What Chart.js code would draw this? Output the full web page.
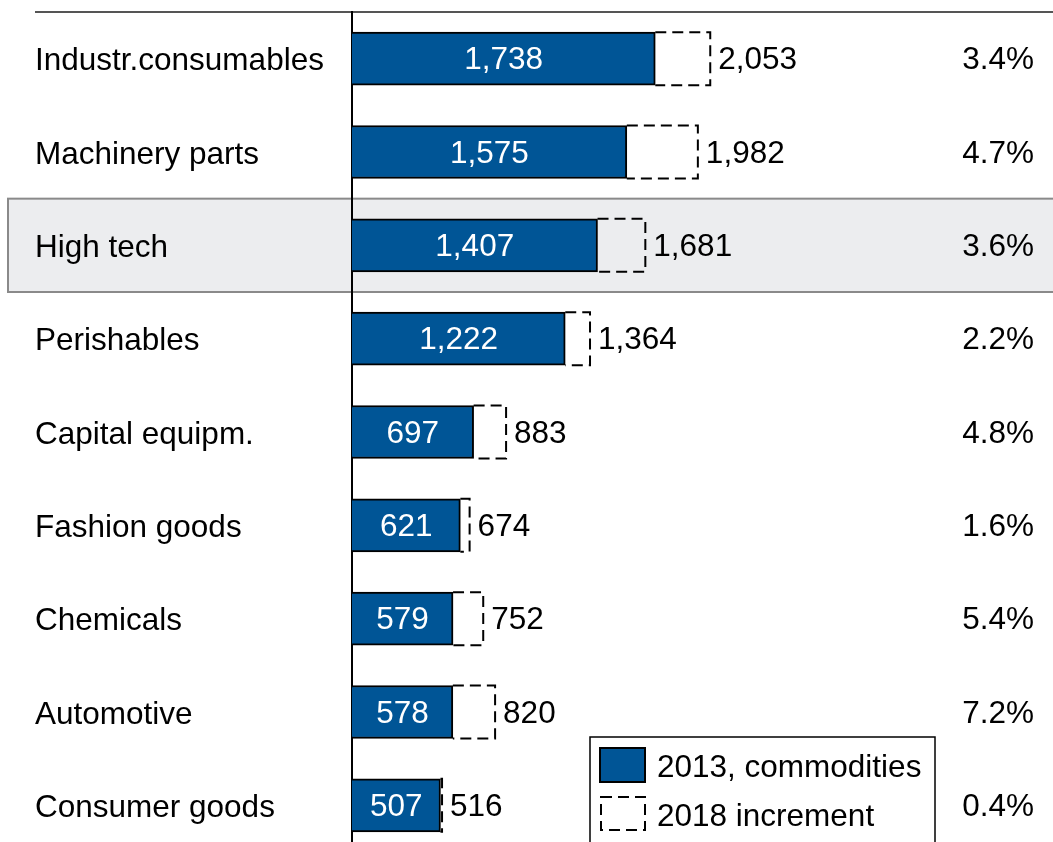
<!DOCTYPE html>
<html lang="en">
<head>
    <meta charset="UTF-8">
    <title>Commodities 2013 vs 2018</title>
    <script src="https://cdn.jsdelivr.net/npm/chart.js"></script>
    <style>
        body {
            margin: 0;
            overflow: hidden;
            background: #fff;
        }
        .chart-box {
            position: relative;
            width: 1053px;
            height: 864px;
        }
    </style>
</head>
<body>
    <div class="chart-box">
        <canvas id="commodityChart"></canvas>
    </div>

    <script>
        const categories = ['Industr.consumables', 'Machinery parts', 'High tech', 'Perishables',
            'Capital equipm.', 'Fashion goods', 'Chemicals', 'Automotive', 'Consumer goods'];
        const values2013 = [1738, 1575, 1407, 1222, 697, 621, 579, 578, 507];
        const values2018 = [2053, 1982, 1681, 1364, 883, 674, 752, 820, 516];
        const growthLabels = ['3.4%', '4.7%', '3.6%', '2.2%', '4.8%', '1.6%', '5.4%', '7.2%', '0.4%'];
        const legendLabels = ['2013, commodities', '2018 increment'];
        const highlightIndex = 2;

        const BLUE = '#005596';
        const FONT = '"Liberation Sans", Arial, sans-serif';
        const FONT_SIZE = 31.5;
        const fmt = v => v.toLocaleString('en-US');

        // 行のハイライトと上の罫線
        const backgroundPlugin = {
            id: 'background',
            beforeDraw(chart) {
                const { ctx, chartArea, scales } = chart;
                const y = scales.y;
                const step = y.getPixelForValue(1) - y.getPixelForValue(0);
                const yc = y.getPixelForValue(highlightIndex);
                ctx.save();
                ctx.fillStyle = '#ecedef';
                ctx.fillRect(8, yc - step / 2, chart.width, step);
                ctx.strokeStyle = '#8a8a8a';
                ctx.lineWidth = 2;
                ctx.strokeRect(8, yc - step / 2, chart.width + 10, step);
                ctx.strokeStyle = '#555';
                ctx.beginPath();
                ctx.moveTo(35, chartArea.top);
                ctx.lineTo(chart.width, chartArea.top);
                ctx.stroke();
                ctx.restore();
            }
        };

        // 破線ボックス、数値ラベル、凡例
        const labelPlugin = {
            id: 'labels',
            afterDatasetsDraw(chart) {
                const { ctx } = chart;
                const blueBars = chart.getDatasetMeta(0).data;
                const dashBars = chart.getDatasetMeta(1).data;
                ctx.save();

                dashBars.forEach(bar => {
                    const left = Math.min(bar.x, bar.base);
                    const right = Math.max(bar.x, bar.base);
                    const top = bar.y - bar.height / 2;
                    const bottom = bar.y + bar.height / 2;
                    ctx.strokeStyle = '#000';
                    ctx.lineWidth = 2;
                    ctx.setLineDash([11, 6]);
                    ctx.beginPath();
                    ctx.moveTo(left, top);
                    ctx.lineTo(right, top);
                    ctx.lineTo(right, bottom);
                    ctx.lineTo(left, bottom);
                    ctx.stroke();
                });
                ctx.setLineDash([]);

                ctx.font = FONT_SIZE + 'px ' + FONT;
                ctx.textBaseline = 'middle';
                blueBars.forEach((bar, i) => {
                    ctx.fillStyle = '#fff';
                    ctx.textAlign = 'center';
                    ctx.fillText(fmt(values2013[i]), (bar.x + bar.base) / 2, bar.y + 2);
                    ctx.fillStyle = '#000';
                    ctx.textAlign = 'left';
                    ctx.fillText(fmt(values2018[i]), dashBars[i].x + 8, bar.y + 2);
                    ctx.textAlign = 'right';
                    ctx.fillText(growthLabels[i], 1034, bar.y + 2);
                });

                // 凡例
                ctx.fillStyle = '#fff';
                ctx.fillRect(590, 737, 345, 120);
                ctx.strokeStyle = '#000';
                ctx.lineWidth = 1.5;
                ctx.strokeRect(590, 737, 345, 120);
                ctx.fillStyle = BLUE;
                ctx.fillRect(600, 748, 45, 34);
                ctx.lineWidth = 2;
                ctx.strokeRect(600, 748, 45, 34);
                ctx.setLineDash([11, 6]);
                ctx.beginPath();
                ctx.rect(601, 797, 44, 33);
                ctx.stroke();
                ctx.setLineDash([]);
                ctx.fillStyle = '#000';
                ctx.textAlign = 'left';
                ctx.fillText(legendLabels[0], 657, 768);
                ctx.fillText(legendLabels[1], 657, 817);
                ctx.restore();
            }
        };

        new Chart(document.getElementById('commodityChart'), {
            type: 'bar',
            data: {
                labels: categories,
                datasets: [
                    {
                        label: legendLabels[0],
                        data: values2013,
                        backgroundColor: BLUE,
                        borderColor: '#000',
                        borderWidth: 2,
                        borderSkipped: 'start',
                        barThickness: 53,
                        grouped: false,
                        order: 1
                    },
                    {
                        label: legendLabels[1],
                        data: values2013.map((v, i) => [v, values2018[i]]),
                        backgroundColor: 'rgba(0,0,0,0)',
                        borderWidth: 0,
                        barThickness: 53,
                        grouped: false,
                        order: 2
                    }
                ]
            },
            options: {
                indexAxis: 'y',
                responsive: true,
                maintainAspectRatio: false,
                animation: false,
                layout: { padding: { left: 35, right: 3, top: 12, bottom: 12 } },
                plugins: {
                    legend: { display: false },
                    tooltip: { enabled: false }
                },
                scales: {
                    x: {
                        display: false,
                        min: 0,
                        max: 4000
                    },
                    y: {
                        afterFit(scale) {
                            scale.width = 317;
                            scale.paddingTop = 0;
                            scale.paddingBottom = 0;
                        },
                        grid: { display: false, drawTicks: false },
                        border: { display: true, color: '#000', width: 2 },
                        ticks: {
                            crossAlign: 'far',
                            labelOffset: 3,
                            color: '#000',
                            font: { size: FONT_SIZE, family: FONT }
                        }
                    }
                }
            },
            plugins: [backgroundPlugin, labelPlugin]
        });
    </script>
</body>
</html>
